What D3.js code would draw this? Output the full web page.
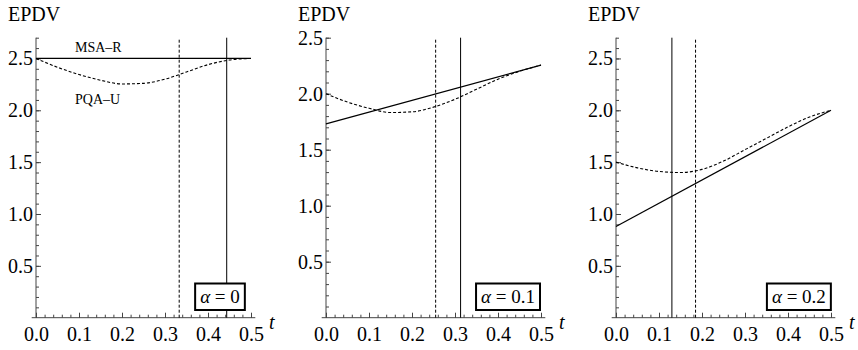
<!DOCTYPE html>
<html>
<head>
<meta charset="utf-8">
<script src="https://cdn.jsdelivr.net/npm/d3@7"></script>
<style>
  body { margin: 0; background: #fff; }
  svg { font-family: "Liberation Serif", "Times New Roman", serif; }
  .axis path { display: none; }
  .axis line { stroke: #444; }
  .axis text { fill: #000; font-size: 20px; font-family: "Liberation Serif", "Times New Roman", serif; }
</style>
</head>
<body>
<div id="chart"></div>
<script>
  // values
  var alphas = ['0', '0.1', '0.2'];
  var tEnds = [0, 0.5];
  var tGrid = [0, 0.05, 0.1, 0.15, 0.2, 0.25, 0.3, 0.35, 0.4, 0.45, 0.5];

  // MSA-R (solid, straight)
  var msaR0 = [2.5, 2.5];
  var msaR1 = [1.73, 2.255];
  var msaR2 = [0.88, 2.0];

  // PQA-U (dashed)
  var pqaU0 = [2.5, 2.415, 2.345, 2.29, 2.254, 2.26, 2.30, 2.37, 2.44, 2.485, 2.5];
  var pqaU1 = [2.0, 1.925, 1.87, 1.832, 1.838, 1.88, 1.95, 2.04, 2.13, 2.20, 2.255];
  var pqaU2 = [1.5, 1.445, 1.41, 1.40, 1.43, 1.51, 1.62, 1.73, 1.84, 1.935, 2.0];

  // vertical markers
  var vSolid = [0.4435, 0.313, 0.130];
  var vDashed = [0.333, 0.255, 0.185];

  var yTicks = [0.5, 1.0, 1.5, 2.0, 2.5];
  var xTicks = [0, 0.1, 0.2, 0.3, 0.4, 0.5];

  var msaR = [msaR0, msaR1, msaR2];
  var pqaU = [pqaU0, pqaU1, pqaU2];

  // layout per panel
  var lefts = [36, 326, 616];
  var yMaxes = [2.7, 2.5, 2.7];
  var boxRight = [0.488, 0.5, 0.502];
  var plotW = 215;
  var y0 = 317.7, yTop = 37.7;

  var svg = d3.select('#chart').append('svg')
    .attr('width', 858)
    .attr('height', 350);

  alphas.forEach(function(a, i) {
    var left = lefts[i];
    var x = d3.scaleLinear().domain([0, 0.5]).range([left, left + plotW]);
    var y = d3.scaleLinear().domain([0, yMaxes[i]]).range([y0, yTop]);
    var g = svg.append('g');

    // axis lines
    g.append('line')
      .attr('x1', x(-0.01)).attr('x2', x(0.51))
      .attr('y1', y0).attr('y2', y0)
      .attr('stroke', '#444');
    g.append('line')
      .attr('x1', left).attr('x2', left)
      .attr('y1', y0).attr('y2', yTop)
      .attr('stroke', '#444');

    // minor ticks
    g.append('g')
      .attr('class', 'axis')
      .attr('transform', 'translate(0,' + y0 + ')')
      .call(d3.axisBottom(x).tickValues(d3.range(0, 0.501, 0.02)).tickSize(-3).tickFormat(''));
    g.append('g')
      .attr('class', 'axis')
      .attr('transform', 'translate(' + left + ',0)')
      .call(d3.axisLeft(y).tickValues(d3.range(0.1, yMaxes[i] + 0.001, 0.1)).tickSize(-3).tickFormat(''));

    // major ticks + labels
    g.append('g')
      .attr('class', 'axis')
      .attr('transform', 'translate(0,' + y0 + ')')
      .call(d3.axisBottom(x).tickValues(xTicks).tickSize(-5).tickPadding(9).tickFormat(d3.format('.1f')));
    g.append('g')
      .attr('class', 'axis')
      .attr('transform', 'translate(' + left + ',0)')
      .call(d3.axisLeft(y).tickValues(yTicks).tickSize(-5).tickPadding(3).tickFormat(d3.format('.1f')));

    // axis titles
    g.append('text')
      .attr('x', left - 28).attr('y', 21)
      .style('font-size', '20px')
      .text('EPDV');
    g.append('text')
      .attr('x', x(0.5) + 18).attr('y', 329)
      .style('font-size', '20px')
      .style('font-style', 'italic')
      .text('t');

    // vertical lines
    g.append('line')
      .attr('x1', x(vDashed[i])).attr('x2', x(vDashed[i]))
      .attr('y1', y0).attr('y2', yTop + 1)
      .attr('stroke', '#000')
      .attr('stroke-dasharray', '3,2');
    g.append('line')
      .attr('x1', x(vSolid[i])).attr('x2', x(vSolid[i]))
      .attr('y1', y0).attr('y2', yTop)
      .attr('stroke', '#000');

    // curves
    var line = d3.line()
      .x(function(d) { return x(d[0]); })
      .y(function(d) { return y(d[1]); });
    var curve = d3.line()
      .x(function(d) { return x(d[0]); })
      .y(function(d) { return y(d[1]); })
      .curve(d3.curveMonotoneX);

    g.append('path')
      .attr('d', line(tEnds.map(function(t, j) { return [t, msaR[i][j]]; })))
      .attr('fill', 'none')
      .attr('stroke', '#000')
      .attr('stroke-width', 1.2);
    g.append('path')
      .attr('d', curve(tGrid.map(function(t, j) { return [t, pqaU[i][j]]; })))
      .attr('fill', 'none')
      .attr('stroke', '#000')
      .attr('stroke-width', 1.1)
      .attr('stroke-dasharray', '3,2');

    if (i === 0) {
      g.append('text')
        .attr('x', 75).attr('y', 52)
        .style('font-size', '14px')
        .text('MSA\u2013R');
      g.append('text')
        .attr('x', 75).attr('y', 104)
        .style('font-size', '14px')
        .text('PQA\u2013U');
    }

    // alpha box
    var box = g.append('g');
    var rect = box.append('rect');
    var txt = box.append('text')
      .style('font-size', '19px')
      .attr('text-anchor', 'end');
    txt.append('tspan').style('font-style', 'italic').text('\u03b1');
    txt.append('tspan').text(' = ' + a);
    var w = txt.node().getComputedTextLength();
    var bx = x(boxRight[i]);
    txt.attr('x', bx - 6).attr('y', 303);
    rect.attr('x', bx - w - 11).attr('y', 283.5)
      .attr('width', w + 10).attr('height', 26.5)
      .attr('fill', '#fff')
      .attr('stroke', '#000')
      .attr('stroke-width', 2);
  });
</script>
</body>
</html>
